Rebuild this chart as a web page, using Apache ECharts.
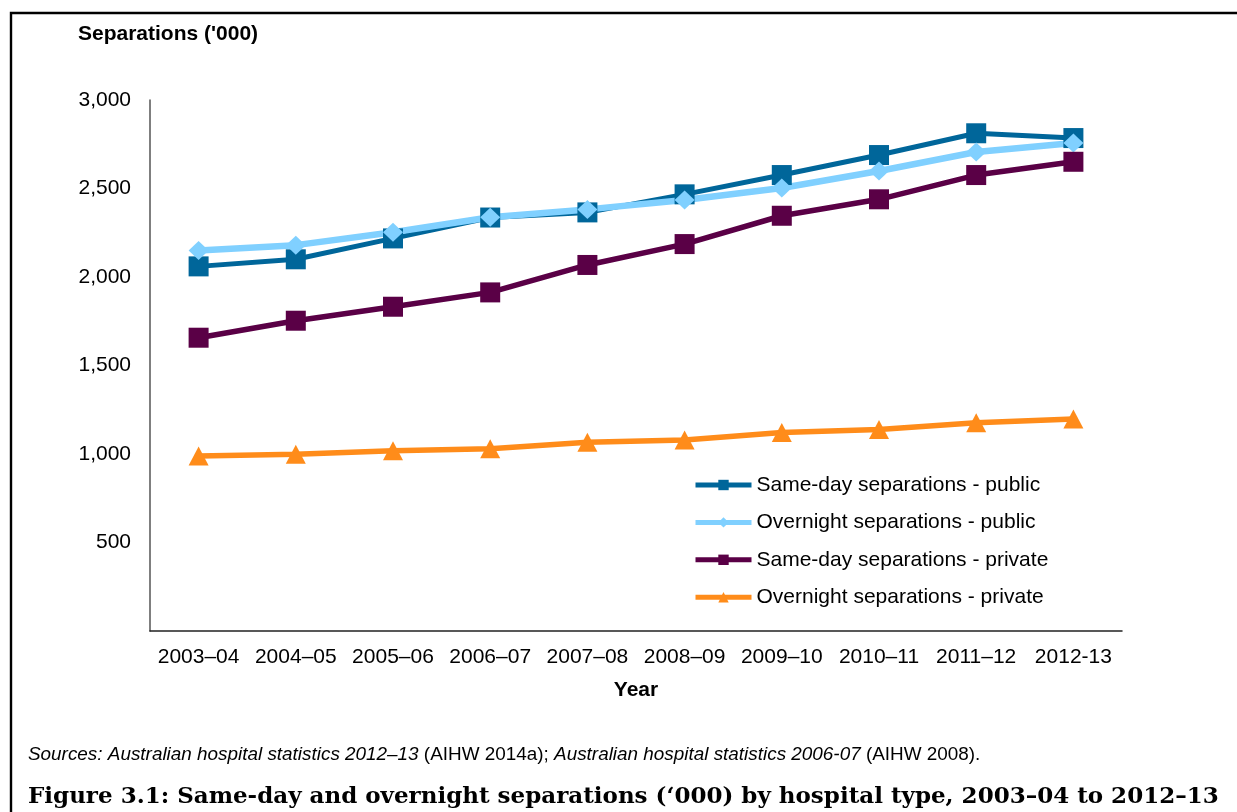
<!DOCTYPE html>
<html>
<head>
<meta charset="utf-8">
<title>Same-day and overnight separations by hospital type</title>
<script src="https://cdn.jsdelivr.net/npm/echarts@6/dist/echarts.min.js"></script>
<style>
  html, body { margin: 0; padding: 0; background: #fff; }
  #chart { width: 1237px; height: 812px; }
</style>
</head>
<body>
<div id="chart"></div>
<script>
// Financial years on the horizontal axis
const years = ['2003–04', '2004–05', '2005–06', '2006–07', '2007–08', '2008–09', '2009–10', '2010–11', '2011–12', '2012-13'];

// Separations ('000) per year
const sameDayPublic    = [2060, 2100, 2218, 2336, 2365, 2467, 2576, 2689, 2812, 2785];
const overnightPublic  = [2150, 2180, 2253, 2338, 2382, 2435, 2503, 2599, 2706, 2757];
const sameDayPrivate   = [1657, 1753, 1832, 1913, 2068, 2186, 2346, 2439, 2576, 2651];
const overnightPrivate = [989, 998, 1019, 1030, 1066, 1079, 1122, 1139, 1177, 1198];

const seriesNames = [
  'Same-day separations - public',
  'Overnight separations - public',
  'Same-day separations - private',
  'Overnight separations - private'
];

// Value-axis tick labels (0 is left blank)
const yTickLabels = ['', '500', '1,000', '1,500', '2,000', '2,500', '3,000'];

const FONT = '"Liberation Sans", Arial, sans-serif';
const FS = 21;
const chart = echarts.init(document.getElementById('chart'), null, { renderer: 'canvas' });

function lineSeries(name, data, color, width, symbol, size) {
  return {
    name: name,
    type: 'line',
    data: data,
    symbol: symbol,
    symbolSize: size,
    showAllSymbol: true,
    lineStyle: { color: color, width: width },
    itemStyle: { color: color },
    emphasis: { disabled: true },
    animation: false
  };
}

chart.setOption({
  backgroundColor: '#ffffff',
  animation: false,
  grid: { left: 150, right: 115, top: 100, bottom: 181, containLabel: false },
  xAxis: {
    type: 'category',
    data: years,
    boundaryGap: true,
    axisLine: { show: true, lineStyle: { color: '#222', width: 1.5 } },
    axisTick: { show: false },
    axisLabel: { color: '#000', fontFamily: FONT, fontSize: FS, margin: 16, interval: 0 },
    name: 'Year',
    nameLocation: 'middle',
    nameGap: 49,
    nameTextStyle: { color: '#000', fontFamily: FONT, fontSize: FS, fontWeight: 'bold' }
  },
  yAxis: {
    type: 'value',
    min: 0,
    max: 3000,
    interval: 500,
    axisLine: { show: true, lineStyle: { color: '#555', width: 1.5 } },
    axisTick: { show: false },
    splitLine: { show: false },
    axisLabel: {
      color: '#000', fontFamily: FONT, fontSize: FS, margin: 19,
      formatter: function (v) { return yTickLabels[Math.round(v / 500)]; }
    }
  },
  legend: {
    orient: 'vertical',
    left: 693,
    top: 474,
    padding: 0,
    itemWidth: 56,
    itemHeight: 13,
    itemGap: 15.4,
    data: seriesNames,
    lineStyle: { width: 5 },
    textStyle: { color: '#000', fontFamily: FONT, fontSize: FS, lineHeight: 22 },
    selectedMode: false
  },
  series: [
    lineSeries(seriesNames[0], sameDayPublic, '#00669A', 5, 'rect', 20),
    lineSeries(seriesNames[1], overnightPublic, '#80D0FF', 6.5, 'diamond', [20, 19]),
    lineSeries(seriesNames[2], sameDayPrivate, '#5A0046', 5.5, 'rect', 20),
    lineSeries(seriesNames[3], overnightPrivate, '#FF8C1A', 5.5, 'triangle', [20, 19])
  ],
  graphic: [
    {
      type: 'rect',
      shape: { x: 11, y: 13, width: 1500, height: 1000 },
      style: { fill: 'none', stroke: '#000', lineWidth: 2.4 },
      silent: true
    },
    {
      type: 'text',
      left: 78,
      top: 24,
      style: { text: "Separations ('000)", fill: '#000', font: 'bold 21px ' + FONT },
      silent: true
    },
    {
      type: 'text',
      left: 28,
      top: 745,
      style: {
        text: '{i|Sources: Australian hospital statistics 2012–13}{r| (AIHW 2014a); }{i|Australian hospital statistics 2006-07}{r| (AIHW 2008).}',
        rich: {
          i: { fill: '#000', fontFamily: FONT, fontSize: 18.9, fontStyle: 'italic' },
          r: { fill: '#000', fontFamily: FONT, fontSize: 18.9 }
        }
      },
      silent: true
    },
    {
      type: 'text',
      left: 28,
      top: 786,
      style: {
        text: "Figure 3.1: Same-day and overnight separations (‘000) by hospital type, 2003–04 to 2012–13",
        fill: '#000',
        font: 'bold 23px "DejaVu Serif", "Liberation Serif", serif'
      },
      silent: true
    }
  ]
});
</script>
</body>
</html>
